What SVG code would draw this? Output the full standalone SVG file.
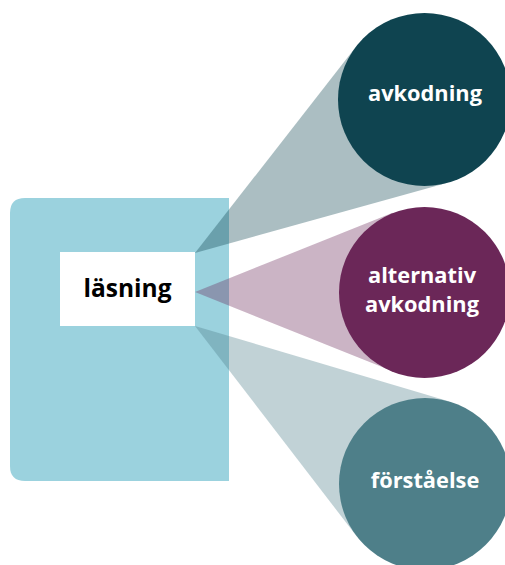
<svg xmlns="http://www.w3.org/2000/svg" width="505" height="565" viewBox="0 0 505 565">
<style>
.lbl{font-family:"Open Sans","Noto Sans","Liberation Sans",sans-serif;font-weight:700;text-anchor:middle}
.w{fill:#ffffff;font-size:21.8px}
.beam{opacity:0.35}
</style>
<rect width="505" height="565" fill="#ffffff"/>
<g id="reading-block">
<path d="M25,198 H229 V481 H25 Q10,481 10,466 V213 Q10,198 25,198 Z" fill="#9bd2de"/>
</g>
<g id="connectors">
<polygon class="beam" points="195,253 356.3,46.3 447.6,182.8" fill="#0f4450"/>
<polygon class="beam" points="195,292 392.7,212.7 392.7,371.3" fill="#6b2758"/>
<polygon class="beam" points="195,326 449.5,401.6 356.8,536.5" fill="#4e7f89"/>
</g>
<g id="lasning">
<rect x="60" y="252" width="135" height="74" fill="#ffffff"/>
<text class="lbl" x="127.5" y="297" font-size="24.5" fill="#000000">läsning</text>
</g>
<g id="avkodning">
<circle cx="424.5" cy="99.5" r="86.5" fill="#0f4450"/>
<text class="lbl w" x="425" y="101">avkodning</text>
</g>
<g id="alternativ-avkodning">
<circle cx="424.5" cy="292.5" r="85.5" fill="#6b2758"/>
<text class="lbl w" x="422" y="283">alternativ</text>
<text class="lbl w" x="422" y="312">avkodning</text>
</g>
<g id="forstaelse">
<circle cx="425" cy="484" r="86" fill="#4e7f89"/>
<text class="lbl w" x="425" y="488">förståelse</text>
</g>
</svg>
